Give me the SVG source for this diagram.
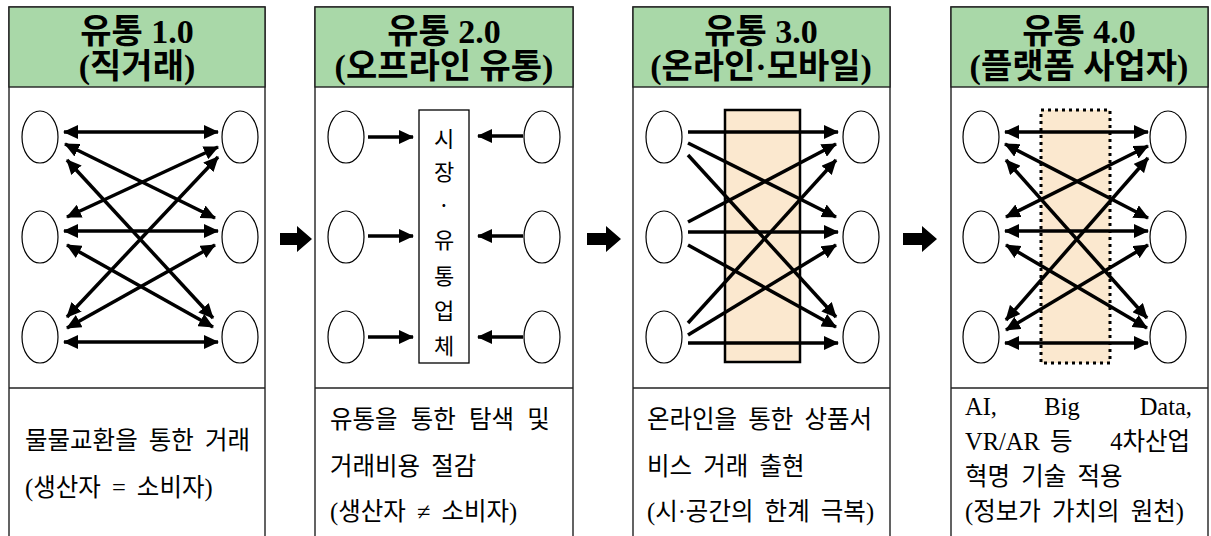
<svg xmlns="http://www.w3.org/2000/svg" width="1211" height="536" viewBox="0 0 1211 536">
<style>
.panel{fill:#fff;stroke:#222;stroke-width:1.4}
.hdr{fill:#A9D8A8;stroke:#222;stroke-width:1.4}
.ttl{font-family:"Liberation Serif","Noto Sans CJK KR",serif;font-weight:bold;font-size:34px;text-anchor:middle;fill:#000}
.body{font-family:"Liberation Serif","Noto Sans CJK KR",serif;font-size:24.5px;word-spacing:5px;fill:#000}
.end{text-anchor:end}
.mid{text-anchor:middle}
.mk{font-family:"Noto Sans CJK KR",sans-serif;font-size:22px;text-anchor:middle;fill:#000}
.ell{fill:#fff;stroke:#000;stroke-width:1.2}
.c{stroke:#000;stroke-width:3.5;fill:none}
.d{marker-start:url(#ah);marker-end:url(#ah)}
.s{marker-end:url(#ah)}
.big{fill:#000}
</style>
<defs>
<marker id="ah" viewBox="0 0 15 14" refX="14" refY="7" markerWidth="15" markerHeight="14" markerUnits="userSpaceOnUse" orient="auto-start-reverse"><path d="M0,0 L15,7 L0,14 z" fill="#000"/></marker>
</defs>

<g id="panel1">
<rect class="panel" x="9" y="7" width="256" height="540"/>
<rect class="hdr" x="9" y="7" width="256" height="80"/>
<text class="ttl" x="137" y="43">유통 1.0</text>
<text class="ttl" x="137" y="78">(직거래)</text>
<line x1="9" y1="388" x2="265" y2="388" stroke="#222" stroke-width="1.4"/>
<ellipse class="ell" cx="40" cy="137" rx="18" ry="26"/>
<ellipse class="ell" cx="240" cy="137" rx="18" ry="26"/>
<ellipse class="ell" cx="40" cy="237" rx="18" ry="26"/>
<ellipse class="ell" cx="240" cy="237" rx="18" ry="26"/>
<ellipse class="ell" cx="40" cy="337" rx="18" ry="26"/>
<ellipse class="ell" cx="240" cy="337" rx="18" ry="26"/>
<text class="body" x="25" y="449">물물교환을 통한 거래</text>
<text class="body" x="25" y="496">(생산자 = 소비자)</text>
</g>

<g id="panel2">
<rect class="panel" x="315" y="7" width="258" height="540"/>
<rect class="hdr" x="315" y="7" width="258" height="80"/>
<text class="ttl" x="444" y="43">유통 2.0</text>
<text class="ttl" x="444" y="78">(오프라인 유통)</text>
<line x1="315" y1="388" x2="573" y2="388" stroke="#222" stroke-width="1.4"/>
<ellipse class="ell" cx="346" cy="137" rx="18" ry="26"/>
<ellipse class="ell" cx="542" cy="137" rx="18" ry="26"/>
<ellipse class="ell" cx="346" cy="237" rx="18" ry="26"/>
<ellipse class="ell" cx="542" cy="237" rx="18" ry="26"/>
<ellipse class="ell" cx="346" cy="337" rx="18" ry="26"/>
<ellipse class="ell" cx="542" cy="337" rx="18" ry="26"/>
<text class="body" x="330" y="428" style="word-spacing:7px">유통을 통한 탐색 및</text>
<text class="body" x="330" y="475">거래비용 절감</text>
<text class="body" x="330" y="520">(생산자 ≠ 소비자)</text>
</g>

<g id="market">
<rect x="419" y="110" width="50" height="253" fill="#fff" stroke="#000" stroke-width="1.3"/>
<text class="mk" x="444" y="147">시</text>
<text class="mk" x="444" y="180">장</text>
<text class="mk" x="444" y="213">·</text>
<text class="mk" x="444" y="248">유</text>
<text class="mk" x="444" y="284">통</text>
<text class="mk" x="444" y="319">업</text>
<text class="mk" x="444" y="354">체</text>
</g>

<g id="panel3">
<rect class="panel" x="633" y="7" width="257" height="540"/>
<rect class="hdr" x="633" y="7" width="257" height="80"/>
<text class="ttl" x="761" y="43">유통 3.0</text>
<text class="ttl" x="761" y="78">(온라인·모바일)</text>
<line x1="633" y1="388" x2="890" y2="388" stroke="#222" stroke-width="1.4"/>
<rect x="725" y="110" width="75" height="252" fill="#FBE8CF" stroke="#000" stroke-width="2.5"/>
<ellipse class="ell" cx="664" cy="137" rx="18" ry="26"/>
<ellipse class="ell" cx="861" cy="137" rx="18" ry="26"/>
<ellipse class="ell" cx="664" cy="237" rx="18" ry="26"/>
<ellipse class="ell" cx="861" cy="237" rx="18" ry="26"/>
<ellipse class="ell" cx="664" cy="337" rx="18" ry="26"/>
<ellipse class="ell" cx="861" cy="337" rx="18" ry="26"/>
<text class="body" x="647" y="428">온라인을 통한 상품서</text>
<text class="body" x="647" y="475">비스 거래 출현</text>
<text class="body" x="647" y="520">(시·공간의 한계 극복)</text>
</g>

<g id="panel4">
<rect class="panel" x="951" y="7" width="257" height="540"/>
<rect class="hdr" x="951" y="7" width="257" height="80"/>
<text class="ttl" x="1079" y="43">유통 4.0</text>
<text class="ttl" x="1079" y="78">(플랫폼 사업자)</text>
<line x1="951" y1="388" x2="1208" y2="388" stroke="#222" stroke-width="1.4"/>
<rect x="1041" y="110" width="69" height="253" fill="#FBE8CF" stroke="#000" stroke-width="3" stroke-dasharray="3 4"/>
<ellipse class="ell" cx="981" cy="137" rx="18" ry="26"/>
<ellipse class="ell" cx="1168" cy="137" rx="18" ry="26"/>
<ellipse class="ell" cx="981" cy="237" rx="18" ry="26"/>
<ellipse class="ell" cx="1168" cy="237" rx="18" ry="26"/>
<ellipse class="ell" cx="981" cy="337" rx="18" ry="26"/>
<ellipse class="ell" cx="1168" cy="337" rx="18" ry="26"/>
<text class="body" x="965" y="415">AI,</text>
<text class="body mid" x="1062" y="415">Big</text>
<text class="body end" x="1192" y="415">Data,</text>
<text class="body" x="965" y="450">VR/AR</text>
<text class="body" x="1050" y="450">등</text>
<text class="body end" x="1190" y="450">4차산업</text>
<text class="body" x="965" y="485">혁명 기술 적용</text>
<text class="body" x="965" y="520">(정보가 가치의 원천)</text>
</g>

<g id="connectors">
<!-- panel 1 -->
<line class="c d" x1="64" y1="132" x2="218" y2="132"/>
<line class="c d" x1="65" y1="144" x2="215" y2="218"/>
<line class="c d" x1="67" y1="160" x2="213" y2="318"/>
<line class="c d" x1="218" y1="147" x2="67" y2="217"/>
<line class="c d" x1="218" y1="157" x2="67" y2="317"/>
<line class="c d" x1="64" y1="231" x2="218" y2="231"/>
<line class="c d" x1="67" y1="245" x2="213" y2="327"/>
<line class="c d" x1="215" y1="245" x2="67" y2="328"/>
<line class="c d" x1="64" y1="342" x2="218" y2="342"/>
<!-- panel 2 -->
<line class="c s" x1="368" y1="137" x2="413" y2="137"/>
<line class="c s" x1="368" y1="236" x2="413" y2="236"/>
<line class="c s" x1="368" y1="337" x2="413" y2="337"/>
<line class="c s" x1="523" y1="136" x2="478" y2="136"/>
<line class="c s" x1="523" y1="236" x2="478" y2="236"/>
<line class="c s" x1="523" y1="337" x2="478" y2="337"/>
<!-- panel 3 -->
<line class="c s" x1="688" y1="132" x2="838" y2="132"/>
<line class="c s" x1="688" y1="143" x2="836" y2="217"/>
<line class="c s" x1="688" y1="155" x2="836" y2="317"/>
<line class="c s" x1="688" y1="222" x2="836" y2="144"/>
<line class="c s" x1="688" y1="232" x2="838" y2="232"/>
<line class="c s" x1="688" y1="245" x2="836" y2="327"/>
<line class="c s" x1="688" y1="323" x2="836" y2="160"/>
<line class="c s" x1="688" y1="335" x2="836" y2="245"/>
<line class="c s" x1="688" y1="343" x2="838" y2="343"/>
<!-- panel 4 -->
<line class="c d" x1="1005" y1="132" x2="1148" y2="132"/>
<line class="c d" x1="1005" y1="144" x2="1148" y2="218"/>
<line class="c d" x1="1006" y1="160" x2="1147" y2="318"/>
<line class="c d" x1="1148" y1="146" x2="1006" y2="217"/>
<line class="c d" x1="1148" y1="158" x2="1006" y2="320"/>
<line class="c d" x1="1005" y1="231" x2="1148" y2="231"/>
<line class="c d" x1="1006" y1="245" x2="1147" y2="328"/>
<line class="c d" x1="1148" y1="245" x2="1006" y2="330"/>
<line class="c d" x1="1005" y1="343" x2="1148" y2="343"/>
<!-- between panels -->
<path class="big" d="M280,233 H297 V226 L312,239 L297,252 V245 H280 Z"/>
<path class="big" d="M587,233 H606 V226 L621,239 L606,252 V245 H587 Z"/>
<path class="big" d="M903,233 H922 V226 L937,239 L922,252 V245 H903 Z"/>
</g>
</svg>
